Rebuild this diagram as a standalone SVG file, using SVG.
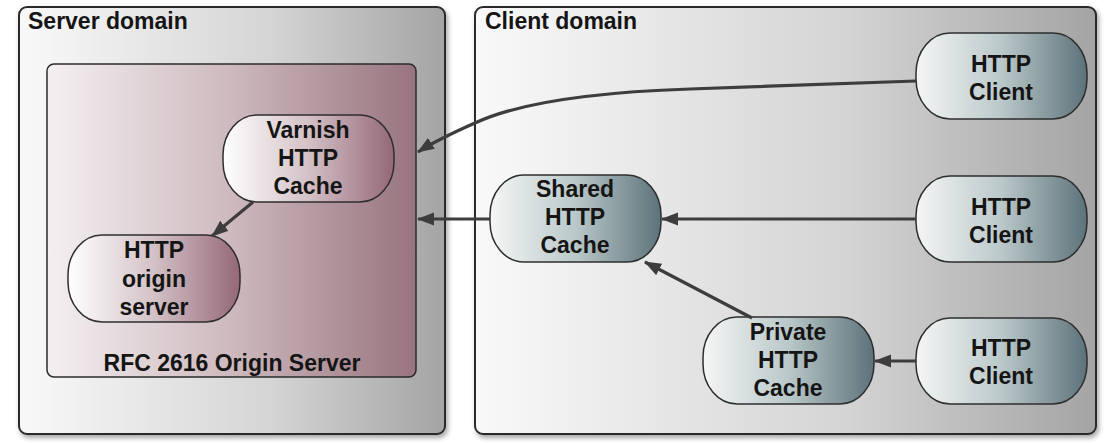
<svg xmlns="http://www.w3.org/2000/svg" width="1112" height="443" viewBox="0 0 1112 443">
<defs>
<style>
.dom{stroke:#2b2b2b;stroke-width:2;fill:url(#gDom);filter:url(#sh)}
.rfc{stroke:#2b2b2b;stroke-width:1.5;fill:url(#gRfc)}
.sn{stroke:#2e2e2e;stroke-width:1.5;fill:url(#gSrv)}
.cn{stroke:#2e2e2e;stroke-width:1.5;fill:url(#gCli)}
.t{font-family:"Liberation Sans",Arial,Helvetica,sans-serif;font-weight:bold;font-size:23px;fill:#151515}
.c{text-anchor:middle}
.con{fill:none;stroke:#3d3d3d;stroke-width:3.2;marker-end:url(#ah)}
</style>
<linearGradient id="gDom" x1="0" y1="0" x2="1" y2="0">
<stop offset="0" stop-color="#f9f9f9"/><stop offset="0.6" stop-color="#d4d4d4"/><stop offset="1" stop-color="#a4a4a4"/>
</linearGradient>
<linearGradient id="gRfc" x1="0" y1="0" x2="1" y2="0">
<stop offset="0" stop-color="#f4f0f1"/><stop offset="0.5" stop-color="#cdb9be"/><stop offset="1" stop-color="#98747f"/>
</linearGradient>
<linearGradient id="gSrv" x1="0" y1="0" x2="1" y2="0">
<stop offset="0" stop-color="#ffffff"/><stop offset="0.5" stop-color="#d3c1c6"/><stop offset="1" stop-color="#956877"/>
</linearGradient>
<linearGradient id="gCli" x1="0" y1="0" x2="1" y2="0">
<stop offset="0" stop-color="#f5f6f6"/><stop offset="0.5" stop-color="#bac8c9"/><stop offset="1" stop-color="#5c727a"/>
</linearGradient>
<filter id="sh" x="-5%" y="-5%" width="112%" height="112%">
<feDropShadow dx="2" dy="3" stdDeviation="2.5" flood-color="#000" flood-opacity="0.35"/>
</filter>
<marker id="ah" markerUnits="userSpaceOnUse" markerWidth="18" markerHeight="14" refX="16" refY="6.5" orient="auto">
<path d="M0,0 L17,6.5 L0,13 Z" fill="#3d3d3d"/>
</marker>
</defs>

<g id="server-domain">
<rect class="dom" x="19" y="7" width="426" height="427" rx="8"/>
<text class="t" x="28" y="29">Server domain</text>
</g>
<g id="client-domain">
<rect class="dom" x="475" y="7" width="621" height="427" rx="8"/>
<text class="t" x="485" y="29">Client domain</text>
</g>
<g id="rfc-origin-server">
<rect class="rfc" x="47" y="64" width="369" height="313" rx="7"/>
<text class="t c" x="232" y="371">RFC 2616 Origin Server</text>
</g>

<g id="varnish">
<rect class="sn" x="223" y="115" width="171" height="87" rx="34" ry="40"/>
<text class="t c" x="308" y="138">Varnish</text>
<text class="t c" x="308" y="166">HTTP</text>
<text class="t c" x="308" y="194">Cache</text>
</g>
<g id="origin">
<rect class="sn" x="68" y="235" width="172" height="87" rx="34" ry="40"/>
<text class="t c" x="154" y="258">HTTP</text>
<text class="t c" x="154" y="287">origin</text>
<text class="t c" x="154" y="315">server</text>
</g>

<g id="shared-cache">
<rect class="cn" x="490" y="175" width="171" height="87" rx="34" ry="40"/>
<text class="t c" x="575" y="197">Shared</text>
<text class="t c" x="575" y="225">HTTP</text>
<text class="t c" x="575" y="253">Cache</text>
</g>
<g id="private-cache">
<rect class="cn" x="703" y="317" width="171" height="87" rx="34" ry="40"/>
<text class="t c" x="788" y="340">Private</text>
<text class="t c" x="788" y="368">HTTP</text>
<text class="t c" x="788" y="396">Cache</text>
</g>
<g id="client1">
<rect class="cn" x="916" y="33" width="171" height="86" rx="34" ry="40"/>
<text class="t c" x="1001" y="72">HTTP</text>
<text class="t c" x="1001" y="100">Client</text>
</g>
<g id="client2">
<rect class="cn" x="916" y="176" width="171" height="86" rx="34" ry="40"/>
<text class="t c" x="1001" y="215">HTTP</text>
<text class="t c" x="1001" y="243">Client</text>
</g>
<g id="client3">
<rect class="cn" x="916" y="318" width="171" height="86" rx="34" ry="40"/>
<text class="t c" x="1001" y="356">HTTP</text>
<text class="t c" x="1001" y="384">Client</text>
</g>

<g id="connectors">
<path class="con" d="M916,81 L690,89 C600,92 520,102 475,123 C450,134 432,143 418,152"/>
<path class="con" d="M490,219 L418,219"/>
<path class="con" d="M916,219 L662,219"/>
<path class="con" d="M752,318 L645,262"/>
<path class="con" d="M916,361 L875,361"/>
<path class="con" d="M253,202 L212,236"/>
</g>
</svg>
